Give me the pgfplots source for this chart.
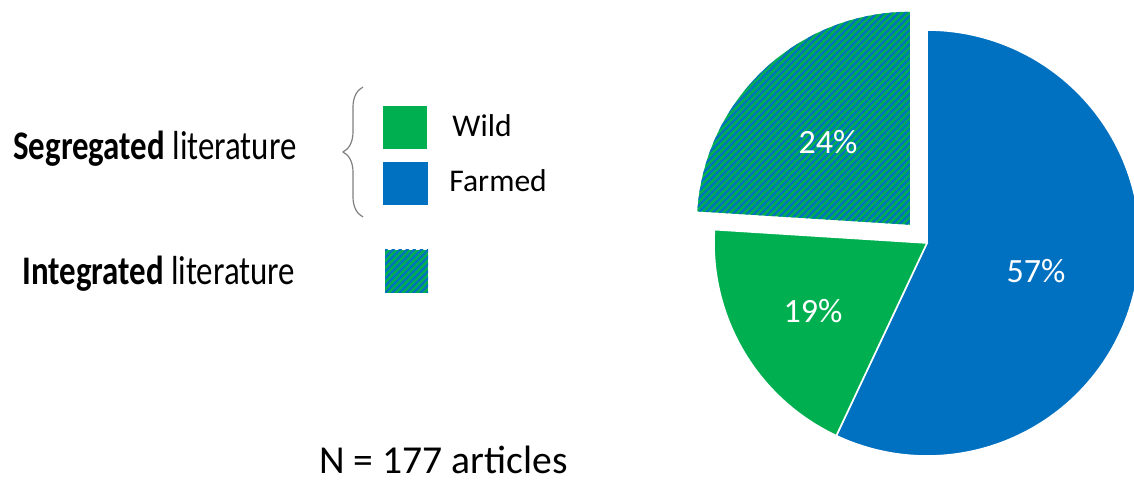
\documentclass[border=0pt]{standalone}
\usepackage{pgfplots}
\pgfplotsset{compat=1.18}
\usepackage{pgfplotstable}
\usepackage{fontspec}
\setmainfont{Carlito}
\usetikzlibrary{patterns.meta,decorations.pathreplacing}
\definecolor{cgreen}{HTML}{00B050}
\definecolor{cblue}{HTML}{0070C0}

\pgfplotstableread{
label value
Farmed 57
Wild 19
Integrated 24
}\piedata

\begin{document}%
\begin{tikzpicture}
\pgfplotstablegetelem{0}{value}\of\piedata \let\vF\pgfplotsretval
\pgfplotstablegetelem{1}{value}\of\piedata \let\vW\pgfplotsretval
\pgfplotstablegetelem{2}{value}\of\piedata \let\vI\pgfplotsretval
\pgfmathsetmacro{\aF}{90-3.6*\vF}
\pgfmathsetmacro{\aW}{\aF-3.6*\vW}
\pgfmathsetmacro{\aI}{\aW-3.6*\vI}
\pgfmathsetmacro{\mI}{(\aW+\aI)/2}
\pgfmathsetmacro{\ex}{927+25*cos(\mI)}
\pgfmathsetmacro{\ey}{237+25*sin(\mI)}
\begin{axis}[width=567pt,height=240pt,scale only axis,
  xmin=0,xmax=1134,ymin=0,ymax=480,hide axis,clip=true]
% Farmed
\addplot[fill=cblue,draw=white,line width=0.8pt,domain=\aF:90,samples=150,variable=\t]
  ({927+213*cos(\t)},{237+213*sin(\t)}) -- (axis cs:927,237) -- cycle;
% Wild
\addplot[fill=cgreen,draw=white,line width=0.8pt,domain=\aW:\aF,samples=80,variable=\t]
  ({927+213*cos(\t)},{237+213*sin(\t)}) -- (axis cs:927,237) -- cycle;
% Integrated (exploded)
\addplot[preaction={fill=cgreen},pattern={Lines[angle=45,distance=2.5pt,line width=1.15pt]},pattern color=cblue,draw=none,domain=\aI:\aW,samples=100,variable=\t]
  ({\ex+213*cos(\t)},{\ey+213*sin(\t)}) -- (axis cs:\ex,\ey) -- cycle;
% slice labels
\node[white,anchor=base,inner sep=0,font=\fontsize{17}{20}\selectfont] at (axis cs:1036,197) {\vF\%};
\node[white,anchor=base,inner sep=0,font=\fontsize{17}{20}\selectfont] at (axis cs:813,157) {\vW\%};
\node[white,anchor=base,inner sep=0,font=\fontsize{17}{20}\selectfont] at (axis cs:828,326) {\vI\%};
% legend
\fill[cgreen] (axis cs:383,331) rectangle (axis cs:427,374);
\fill[cblue] (axis cs:383,275) rectangle (axis cs:428,318);
\path[preaction={fill=cgreen},pattern={Lines[angle=45,distance=2.5pt,line width=1.15pt]},pattern color=cblue] (axis cs:385,187) rectangle (axis cs:428,230);
\draw[gray,line width=0.6pt,decorate,decoration={brace,amplitude=10pt}] (axis cs:363,263) -- (axis cs:363,393);
\node[anchor=base west,inner sep=0,font=\fontsize{15.8}{19}\selectfont] at (axis cs:452,343) {Wild};
\node[anchor=base west,inner sep=0,font=\fontsize{15.8}{19}\selectfont] at (axis cs:449,288) {Farmed};
\node[anchor=base west,inner sep=0,font=\fontsize{20.3}{24}\selectfont] at (axis cs:13,320) {\scalebox{0.81}[1]{\textbf{Segregated} literature}};
\node[anchor=base west,inner sep=0,font=\fontsize{20.3}{24}\selectfont] at (axis cs:22,195) {\scalebox{0.81}[1]{\textbf{Integrated} literature}};
\node[anchor=base west,inner sep=0,font=\fontsize{19.8}{24}\selectfont] at (axis cs:319,6) {N = 177 articles};
\end{axis}
\pgfresetboundingbox
\path (current axis.south west) rectangle (current axis.north east);
\end{tikzpicture}%
\end{document}
